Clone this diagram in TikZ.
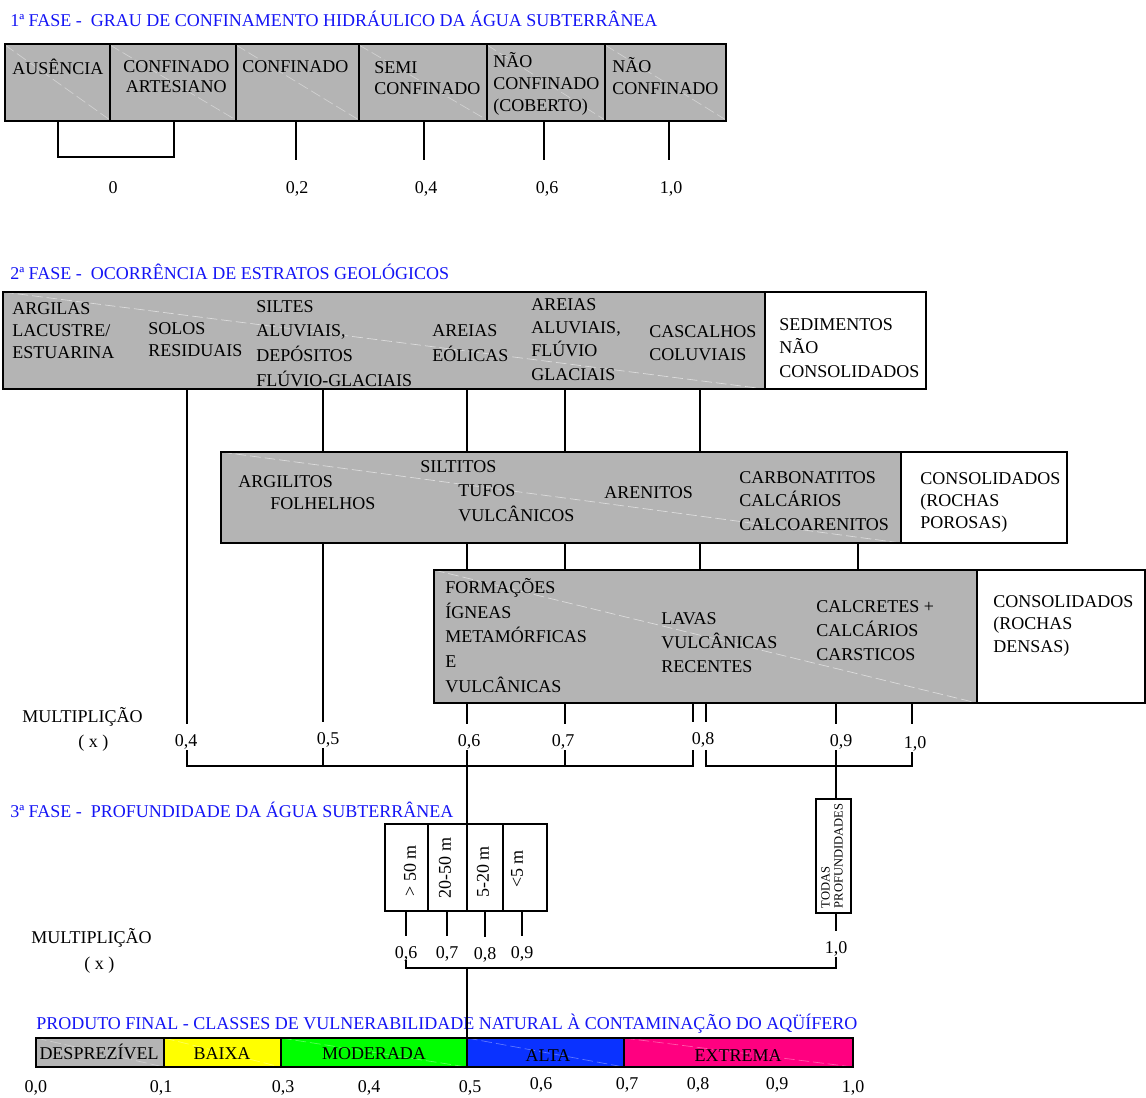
\documentclass[tikz,border=0pt]{standalone}
\usepackage{fontspec}
\setmainfont{Liberation Serif}
\usetikzlibrary{fit}
\definecolor{boxgray}{RGB}{180,180,180}
\definecolor{ttlblue}{RGB}{20,20,245}
\definecolor{cyel}{RGB}{255,255,0}
\definecolor{cgrn}{RGB}{0,255,0}
\definecolor{cblu}{RGB}{10,50,255}
\definecolor{cmag}{RGB}{255,0,128}
\newcommand\tstr{\rule{0pt}{12.75pt}}
\tikzset{
  fillbox/.style={inner sep=0pt, outer sep=0pt},
  frame/.style={line width=2pt},
  div/.style={line width=0.8pt},
  conn/.style={line width=1.5pt},
  upc/.style={conn, shorten >=7pt},
  diag/.style={white, line width=0.5pt, dash pattern=on 8pt off 3pt, opacity=0.55},
  txt/.style={anchor=north west, inner sep=0pt, align=left, font=\fontsize{13.5}{#1}\selectfont},
  txt/.default=16.5,
  ctxt/.style={txt=#1, align=center},
  num/.style={anchor=base, inner sep=0pt, text depth=0pt, font=\fontsize{13.5}{16}\selectfont},
  ttl/.style={anchor=base west, inner sep=0pt, text=ttlblue, font=\fontsize{13.5}{16}\selectfont},
  vtxt/.style={rotate=90, inner sep=0pt, font=\fontsize{13.5}{16}\selectfont},
}
\begin{document}
\begin{tikzpicture}[x=0.75pt,y=-0.75pt]
\useasboundingbox (0,0) rectangle (1146,1097);

% ---------------- 1a FASE ----------------
\node[ttl] (t1) at (10,26.5) {1ª FASE -\ \ GRAU DE CONFINAMENTO HIDRÁULICO DA ÁGUA SUBTERRÂNEA};
\node[fillbox, fill=boxgray, fit={(5,44) (726,121)}] (p1) {};
\foreach \a/\b in {5/110,110/236,236/359,359/487,487/605,605/726}
  \draw[diag, opacity=0.4] (\a,45) -- (\b,120);
\foreach \x in {110,236,359,487,605} \draw[div] (\x,44) -- (\x,121);
\draw[frame] (p1.north west) rectangle (p1.south east);

\node[txt] (c1) at (12,57) {\tstr AUSÊNCIA};
\node[ctxt=15] (c2) at (123,55) {\tstr CONFINADO\\ARTESIANO};
\node[txt] (c3) at (242,55) {\tstr CONFINADO};
\node[txt=15.75] (c4) at (374,56) {\tstr SEMI\\CONFINADO};
\node[txt] (c5) at (493,50) {\tstr NÃO\\CONFINADO\\(COBERTO)};
\node[txt] (c6) at (612,55) {\tstr NÃO\\CONFINADO};

\node[num] (a0) at (113,193) {0};
\node[num] (a2) at (297,193) {0,2};
\node[num] (a4) at (426,193) {0,4};
\node[num] (a6) at (547,193) {0,6};
\node[num] (a10) at (671,193) {1,0};

\draw[conn] (p1.south -| 58,0) -- ++(0,36) -| (p1.south -| 174,0);
\foreach \x in {296,424,544,669} \draw[conn] (p1.south -| \x,0) -- ++(0,39);

% ---------------- 2a FASE ----------------
\node[ttl] (t2) at (10,279) {2ª FASE -\ \ OCORRÊNCIA DE ESTRATOS GEOLÓGICOS};

% box 1
\node[fillbox, fill=boxgray, fit={(3,292) (765,389)}] (g1) {};
\node[fillbox, fill=white, fit={(765,292) (926,389)}] (w1) {};
\draw[diag] (g1.north west) -- (g1.south east);
\draw[line width=1.5pt] (g1.north east) -- (g1.south east);
\draw[frame] (g1.north west) rectangle (w1.south east);
\node[txt] at (12,297) {\tstr ARGILAS\\LACUSTRE/\\ESTUARINA};
\node[txt] at (148,317) {\tstr SOLOS\\RESIDUAIS};
\node[txt=18.5] at (256,295) {\tstr SILTES\\ALUVIAIS,\\DEPÓSITOS\\FLÚVIO-GLACIAIS};
\node[txt=18.75] at (432,319) {\tstr AREIAS\\EÓLICAS};
\node[txt=17.5] at (531,293) {\tstr AREIAS\\ALUVIAIS,\\FLÚVIO\\GLACIAIS};
\node[txt=17.25] at (649,320) {\tstr CASCALHOS\\COLUVIAIS};
\node[txt=17.6] at (779,313) {\tstr SEDIMENTOS\\NÃO\\CONSOLIDADOS};

% box 2
\node[fillbox, fill=boxgray, fit={(221,452) (901,543)}] (g2) {};
\node[fillbox, fill=white, fit={(901,452) (1067,543)}] (w2) {};
\draw[diag] (g2.north west) -- (g2.south east);
\draw[line width=1.5pt] (g2.north east) -- (g2.south east);
\draw[frame] (g2.north west) rectangle (w2.south east);
\node[txt] at (238,470) {\tstr ARGILITOS\\\hspace*{24pt}FOLHELHOS};
\node[txt=18.4] at (420,455) {\tstr SILTITOS\\\hspace*{28.5pt}TUFOS\\\hspace*{28.5pt}VULCÂNICOS};
\node[txt] at (604,481) {\tstr ARENITOS};
\node[txt=17.6] at (739,466) {\tstr CARBONATITOS\\CALCÁRIOS\\CALCOARENITOS};
\node[txt] at (920,467) {\tstr CONSOLIDADOS\\(ROCHAS\\POROSAS)};

% box 3
\node[fillbox, fill=boxgray, fit={(434,570) (977,703)}] (g3) {};
\node[fillbox, fill=white, fit={(977,570) (1145,703)}] (w3) {};
\draw[diag] (g3.north west) -- (g3.south east);
\draw[line width=1.5pt] (g3.north east) -- (g3.south east);
\draw[frame] (g3.north west) rectangle (w3.south east);
\node[txt=18.56] at (445,576) {\tstr FORMAÇÕES\\ÍGNEAS\\METAMÓRFICAS\\E\\VULCÂNICAS};
\node[txt=18] at (661,607) {\tstr LAVAS\\VULCÂNICAS\\RECENTES};
\node[txt=18] at (816,595) {\tstr CALCRETES +\\CALCÁRIOS\\CARSTICOS};
\node[txt=16.9] at (993,590) {\tstr CONSOLIDADOS\\(ROCHAS\\DENSAS)};

% multiplication row 1
\node[txt] (m1) at (22,705) {\tstr MULTIPLIÇÃO};
\node[txt] (x1) at (78,730) {\tstr ( x )};
\node[num] (l04) at (186,746) {0,4};
\node[num] (l05) at (328,744) {0,5};
\node[num] (l06) at (469,746) {0,6};
\node[num] (l07) at (563,746) {0,7};
\node[num] (l08) at (703,744) {0,8};
\node[num] (l09) at (841,746) {0,9};
\node[num] (l10) at (915,748) {1,0};

\coordinate (k04) at (187,766);
\coordinate (k05) at (323,766);
\coordinate (k06) at (467,766);
\coordinate (k07) at (565,766);
\coordinate (k08a) at (693,766);
\coordinate (k08b) at (706,766);
\coordinate (k09) at (836,766);
\coordinate (k10) at (912,766);

% connectors box1 -> box2 / labels
\draw[upc] (g1.south -| k04) -- (l04.north -| k04);
\draw[conn] (g1.south -| k05) -- (g2.north -| k05);
\draw[conn] (g1.south -| k06) -- (g2.north -| k06);
\draw[conn] (g1.south -| k07) -- (g2.north -| k07);
\draw[conn] (g1.south -| 700,0) -- (g2.north -| 700,0);
% box2 -> box3 / labels
\draw[upc] (g2.south -| k05) -- (l05.north -| k05);
\draw[conn] (g2.south -| k06) -- (g3.north -| k06);
\draw[conn] (g2.south -| k07) -- (g3.north -| k07);
\draw[conn] (g2.south -| 700,0) -- (g3.north -| 700,0);
\draw[conn] (g2.south -| 858,0) -- (g3.north -| 858,0);
% box3 -> labels
\draw[upc] (g3.south -| k06) -- (l06.north -| k06);
\draw[upc] (g3.south -| k07) -- (l07.north -| k07);
\draw[upc] (g3.south -| k08a) -- (l08.north -| k08a);
\draw[upc] (g3.south -| k08b) -- (l08.north -| k08b);
\draw[upc] (g3.south -| k09) -- (l09.north -| k09);
\draw[conn, shorten >=9pt] (g3.south -| k10) -- (l10.north -| k10);
% brackets
\draw[conn, shorten <=3pt, shorten >=4.5pt] (l04.south -| k04) -- (k04) -- (k08a) -- (l08.south -| k08a);
\draw[conn, shorten <=3pt] (l05.south -| k05) -- (k05);
\draw[conn, shorten <=3pt] (l07.south -| k07) -- (k07);
\draw[conn, shorten <=4.5pt, shorten >=3pt] (l08.south -| k08b) -- (k08b) -- (k10) -- (l10.south -| k10);

% ---------------- 3a FASE ----------------
\node[ttl] (t3) at (10,817) {3ª FASE -\ \ PROFUNDIDADE DA ÁGUA SUBTERRÂNEA};
\node[fillbox, fit={(385,824) (547,911)}] (dbox) {};
\foreach \x in {428,467,503} \draw[div] (\x,824) -- (\x,911);
\draw[line width=1.6pt] (dbox.north west) rectangle (dbox.south east);
\node[vtxt] at (410,871) {> 50 m};
\node[vtxt] at (445,868) {20-50 m};
\node[vtxt] at (483,872) {5-20 m};
\node[vtxt] at (517,869) {<5 m};

\node[fillbox, fit={(816,799) (851,913)}] (todas) {};
\draw[line width=1.6pt] (todas.north west) rectangle (todas.south east);
\node[rotate=90, align=left, inner sep=0pt, font=\fontsize{9.4}{9.75}\selectfont] at (832,856) {TODAS\\PROFUNDIDADES};

\draw[conn, shorten <=3pt] (l06.south -| k06) -- (dbox.north -| k06);
\draw[conn, shorten <=3pt] (l09.south -| k09) -- (todas.north -| k09);

\node[txt] (m2) at (31,926) {\tstr MULTIPLIÇÃO};
\node[txt] (x2) at (84,952) {\tstr ( x )};
\node[num] (d06) at (406,958) {0,6};
\node[num] (d07) at (447,958) {0,7};
\node[num] (d08) at (485,959) {0,8};
\node[num] (d09) at (522,958) {0,9};
\node[num] (e10) at (836,953) {1,0};

\draw[upc] (dbox.south -| d06) -- (d06.north);
\draw[upc] (dbox.south -| d07) -- (d07.north);
\draw[upc] (dbox.south -| d08) -- (d08.north);
\draw[upc] (dbox.south -| d09) -- (d09.north);
\draw[upc] (todas.south -| e10) -- (e10.north);

\coordinate (r06) at (406,968);
\coordinate (r05) at (467,968);
\coordinate (r10) at (836,968);
\draw[conn, shorten <=1.5pt, shorten >=3pt] (d06.south) -- (r06) -- (r10) -- (e10.south);

% ---------------- PRODUTO FINAL ----------------
\node[ttl] (t4) at (36,1029) {PRODUTO FINAL - CLASSES DE VULNERABILIDADE NATURAL À CONTAMINAÇÃO DO AQÜÍFERO};
\node[fillbox, fill=boxgray, fit={(36,1038) (164,1067)}] (s1) {};
\node[fillbox, fill=cyel, fit={(164,1038) (281,1067)}] (s2) {};
\node[fillbox, fill=cgrn, fit={(281,1038) (467,1067)}] (s3) {};
\node[fillbox, fill=cblu, fit={(467,1038) (624,1067)}] (s4) {};
\node[fillbox, fill=cmag, fit={(624,1038) (853,1067)}] (s5) {};
\foreach \s in {s1,s2,s3,s4,s5} \draw[diag, opacity=0.35] (\s.north west) -- (\s.south east);
\node[num] at (99,1059) {DESPREZÍVEL};
\node[num] at (222,1059) {BAIXA};
\node[num] at (374,1059) {MODERADA};
\node[num] at (548,1061) {ALTA};
\node[num] at (738,1061) {EXTREMA};
\foreach \s in {s2,s3,s4,s5} \draw[line width=1.1pt] (\s.north west) -- (\s.south west);
\draw[frame] (s1.north west) rectangle (s5.south east);

\draw[conn] (r05) -- (s4.north west);

\node[num] at (36,1092) {0,0};
\node[num] at (161,1092) {0,1};
\node[num] at (283,1092) {0,3};
\node[num] at (369,1092) {0,4};
\node[num] at (470,1092) {0,5};
\node[num] at (541,1089) {0,6};
\node[num] at (627,1089) {0,7};
\node[num] at (698,1089) {0,8};
\node[num] at (777,1089) {0,9};
\node[num] at (853,1092) {1,0};
\end{tikzpicture}
\end{document}
